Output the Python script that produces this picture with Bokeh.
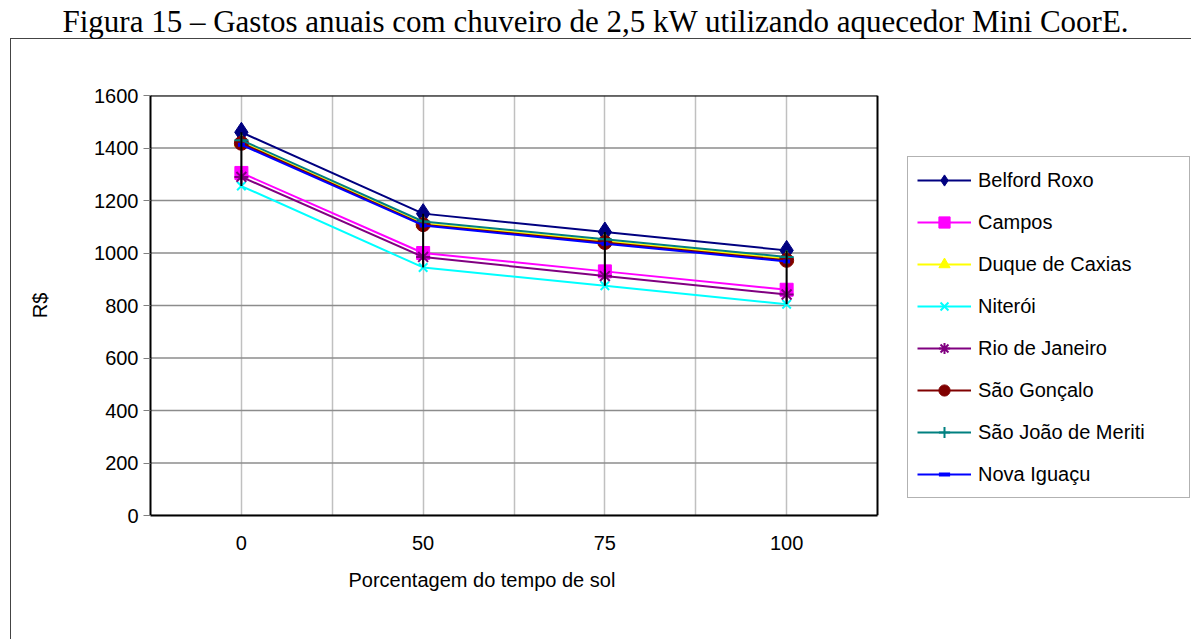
import numpy as np
from bokeh.plotting import figure
from bokeh.models import Range1d, FixedTicker, Legend, LegendItem, Title
from bokeh.embed import file_html
from bokeh.resources import INLINE

# ---- data ----
categories = ["0", "50", "75", "100"]
belford_roxo = [1460, 1150, 1080, 1010]
campos = [1305, 1000, 930, 860]
duque_de_caxias = [1422, 1112, 1045, 978]
niteroi = [1255, 945, 875, 805]
rio_de_janeiro = [1290, 985, 912, 842]
sao_goncalo = [1418, 1108, 1040, 972]
sao_joao_de_meriti = [1430, 1120, 1052, 985]
nova_iguacu = [1412, 1105, 1035, 968]
y_ticks = [0, 200, 400, 600, 800, 1000, 1200, 1400, 1600]

series = [
    ("Belford Roxo", belford_roxo, "#000080", "diamond", 20),
    ("Campos", campos, "#FF00FF", "square", 13),
    ("Duque de Caxias", duque_de_caxias, "#FFFF00", "triangle", 14),
    ("Niterói", niteroi, "#00FFFF", "x", 12),
    ("Rio de Janeiro", rio_de_janeiro, "#800080", "asterisk", 14),
    ("São Gonçalo", sao_goncalo, "#800000", "circle", 14),
    ("São João de Meriti", sao_joao_de_meriti, "#008080", "cross", 14),
    ("Nova Iguaçu", nova_iguacu, "#0000FF", "dash", 7),
]

n = len(categories)
xs = list(range(1, n + 1))
x_lo, x_hi = 0.5, n + 0.5
# plot area is 727 px wide for the 4 categories; the frame continues to the
# right edge of the canvas so that the legend can sit beside the plot area
frame_w, area_w = 1191 - 150, 727
x_end = x_lo + (x_hi - x_lo) * frame_w / area_w

p = figure(width=1191, height=639, output_backend="svg", toolbar_location=None,
           x_range=Range1d(x_lo, x_end), y_range=Range1d(0, 1600),
           min_border_left=150, min_border_right=0, min_border_top=95, min_border_bottom=124)
p.background_fill_color = "white"
p.border_fill_alpha = 0
p.outline_line_color = None
# outer chart border drawn as CSS background lines behind the transparent canvas border
p.styles = {
    "background": "linear-gradient(#444,#444) 10px 38px / 1px 100% no-repeat, "
                  "linear-gradient(#444,#444) 10px 38px / 100% 1px no-repeat, white"
}

# axes
p.yaxis.ticker = FixedTicker(ticks=y_ticks)
p.yaxis.major_tick_out = 7
p.yaxis.major_tick_in = 0
p.yaxis.minor_tick_line_color = None
p.yaxis.major_tick_line_color = "#808080"
p.yaxis.axis_line_width = 2
p.yaxis.major_label_standoff = 5
p.yaxis.axis_label = "R$"
p.yaxis.axis_label_standoff = 40
p.yaxis.axis_label_text_font_style = "normal"
p.xaxis.ticker = FixedTicker(ticks=xs)
p.xaxis.bounds = (x_lo, x_hi)
p.xaxis.major_label_overrides = {x: c for x, c in zip(xs, categories)}
p.xaxis.major_tick_out = 0
p.xaxis.major_tick_in = 0
p.xaxis.minor_tick_line_color = None
p.xaxis.axis_line_width = 2
p.xaxis.major_label_standoff = 20
for ax in (p.xaxis, p.yaxis):
    ax.major_label_text_font = "Liberation Sans"
    ax.major_label_text_font_size = "20px"
    ax.major_label_text_color = "black"
    ax.axis_line_color = "black"
    ax.axis_label_text_font = "Liberation Sans"
    ax.axis_label_text_font_size = "20px"
    ax.axis_label_text_color = "black"

# grid
p.ygrid.visible = False
p.segment(x0=x_lo, x1=x_hi, y0=y_ticks, y1=y_ticks, line_color="#8c8c8c", line_width=1.5)
p.xgrid.ticker = FixedTicker(ticks=[1, 1.5, 2, 2.5, 3, 3.5, 4])
p.xgrid.grid_line_color = "#c0c0c0"
p.xgrid.grid_line_width = 1.5
# plot-area border (top and right)
p.segment(x0=[x_lo, x_hi], x1=[x_hi, x_hi], y0=[1600, 0], y1=[1600, 1600],
          line_color="black", line_width=2)

items = []
for name, vals, color, marker, size in series:
    r1 = p.line(xs, vals, line_color=color, line_width=2)
    if marker in ("x", "asterisk", "cross", "dash"):
        lw = 4 if marker == "dash" else 2
        r2 = p.scatter(xs, vals, marker=marker, size=size, line_color=color, line_width=lw)
    else:
        r2 = p.scatter(xs, vals, marker=marker, size=size, fill_color=color, line_color=color)
    items.append(LegendItem(label=name, renderers=[r1, r2]))

# high-low lines
all_vals = np.array([s[1] for s in series])
p.segment(x0=xs, y0=all_vals.max(axis=0), x1=xs, y1=all_vals.min(axis=0),
          line_color="black", line_width=2)

legend = Legend(items=items, location=(757, 17), label_text_font="Liberation Sans",
                label_text_font_size="20px", label_text_color="black",
                border_line_color="#666666", border_line_width=1, background_fill_color="white",
                padding=9, spacing=14, label_height=28, glyph_height=28, glyph_width=54,
                label_standoff=7, label_width=202, margin=0)
p.add_layout(legend)

# x axis title
p.add_layout(Title(text="Porcentagem do tempo de sol", align="left", offset=198,
                   text_font="Liberation Sans", text_font_size="20px",
                   text_font_style="normal", text_color="black", standoff=28), "below")
# spacer between frame and caption, then the caption at the top of the page
p.add_layout(Title(text=" ", text_font_size="20px", standoff=30), "above")
p.add_layout(Title(text="Figura 15 – Gastos anuais com chuveiro de 2,5 kW utilizando aquecedor Mini CoorE.",
                   align="left", offset=-88, vertical_align="top",
                   text_font="Liberation Serif", text_font_size="31px",
                   text_font_style="normal", text_color="black", standoff=2), "above")

open("out.html", "w").write(file_html(p, INLINE))
